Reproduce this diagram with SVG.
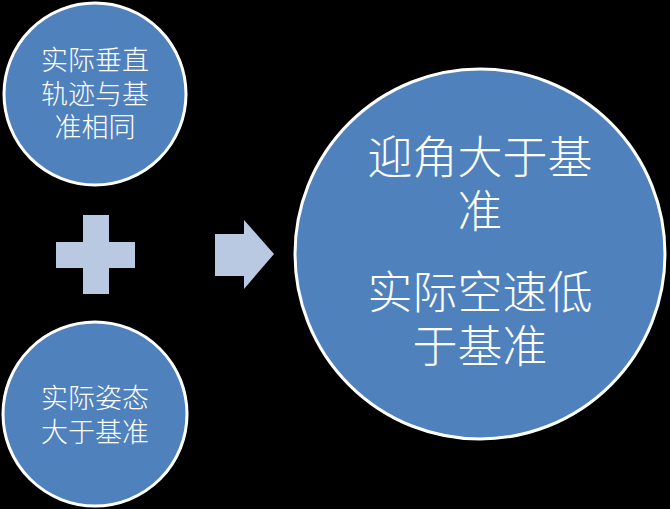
<svg xmlns="http://www.w3.org/2000/svg" width="670" height="509" viewBox="0 0 670 509">
<style>
.c{fill:#4f81bd;stroke:#ffffff;stroke-width:3}
.t{fill:#ffffff;font-family:"Noto Sans CJK SC","Noto Sans CJK JP",sans-serif;text-anchor:middle;font-weight:300}
.s{font-size:27px}
.b{font-size:45px}
.sym{fill:#b9c9e2}
</style>
<rect width="670" height="509" fill="#000000"/>
<g id="node-top">
<circle class="c" cx="95" cy="94" r="91"/>
<text class="t s" x="95" y="70">实际垂直</text>
<text class="t s" x="95" y="104">轨迹与基</text>
<text class="t s" x="95" y="137">准相同</text>
</g>
<g id="node-bottom">
<circle class="c" cx="95" cy="414" r="92"/>
<text class="t s" x="95" y="408">实际姿态</text>
<text class="t s" x="95" y="442">大于基准</text>
</g>
<g id="node-result">
<circle class="c" cx="480" cy="254" r="185"/>
<text class="t b" x="480" y="174">迎角大于基</text>
<text class="t b" x="480" y="228">准</text>
<text class="t b" x="480" y="309">实际空速低</text>
<text class="t b" x="480" y="363">于基准</text>
</g>
<g id="connectors">
<path class="sym" d="M83 215H109V242H135V268H109V294H83V268H56V242H83Z"/>
<path class="sym" d="M215 234H244V220L274 254L244 289V276H215Z"/>
</g>
</svg>
